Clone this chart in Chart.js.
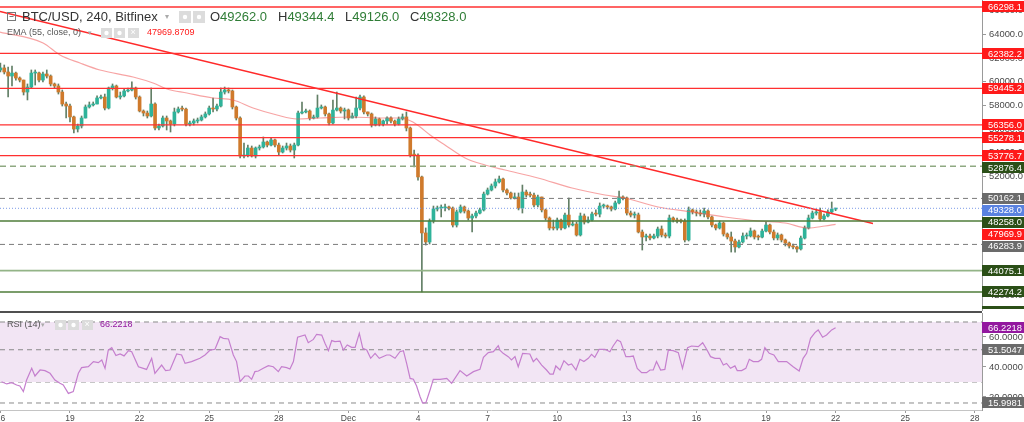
<!DOCTYPE html>
<html>
<head>
<meta charset="utf-8">
<script src="https://cdn.jsdelivr.net/npm/chart.js@4.4.0/dist/chart.umd.min.js"></script>
<style>
  html, body { margin: 0; padding: 0; background: #fff; overflow: hidden; }
  #wrap { position: relative; width: 1024px; height: 422px; }
  #priceChart { position: absolute; left: 0; top: 0; }
  #rsiChart { position: absolute; left: 0; top: 311px; }
</style>
</head>
<body>
<div id="wrap">
  <canvas id="priceChart" width="1024" height="311"></canvas>
  <canvas id="rsiChart" width="1024" height="111"></canvas>
</div>
<script>
// BTC/USD 4h candles, 16 Nov -> 22 Dec (one candle = 1/6 day)
const opens = [
  60990, 61160, 60820, 60480, 60730, 60310, 60140, 59130, 59550, 60730,
  60740, 60140, 60650, 60480, 59810, 59640, 59130, 58120, 57950, 57030,
  56010, 56270, 56940, 57870, 58040, 58120, 58630, 58710, 57780, 59470,
  59640, 58710, 58800, 59220, 59300, 59470, 58710, 57530, 57360, 57110,
  58120, 56100, 56270, 56940, 56690, 56440, 57450, 57700, 57690, 56430,
  56520, 56690, 56770, 57030, 57280, 57780, 57700, 57950, 59130, 59300,
  59220, 57870, 56940, 53740, 53820, 54410, 53740, 54410, 54500, 54920,
  54660, 55090, 54660, 54070, 54410, 54580, 54240, 54660, 57360, 57450,
  57530, 56940, 57020, 57780, 57870, 57280, 56520, 57610, 57780, 57530,
  57620, 56940, 57110, 57780, 58710, 57450, 57280, 56350, 56860, 56430,
  56690, 56940, 56680, 56440, 56860, 57030, 56100, 53820, 53810, 51970,
  47250, 46490, 48260, 49270, 49350, 49360, 49440, 49350, 47920, 49020,
  49440, 49100, 48510, 48680, 48930, 49190, 50530, 50870, 51210, 51550,
  51800, 50870, 50620, 50200, 50280, 49350, 50700, 50450, 50440, 49610,
  50280, 49190, 48510, 47670, 47660, 48340, 47670, 48760, 47920, 48000,
  47080, 48680, 48170, 48340, 48850, 48840, 49520, 49530, 49440, 49270,
  49780, 50280, 50200, 48930, 48760, 48770, 47330, 46910, 46990, 46830,
  46990, 47580, 47080, 46990, 48510, 48340, 48260, 48250, 46660, 49190,
  49020, 48930, 48850, 49100, 48600, 47920, 47670, 48090, 47160, 46910,
  46570, 46070, 46490, 46990, 47000, 47420, 46910, 46900, 47410, 47920,
  47330, 46830, 47080, 46660, 46400, 46150, 46070, 45900, 46820, 47670,
  48510, 48930, 49020, 48430, 48680, 49020, 49262
];
const highs = [
  61580, 61410, 61240, 61320, 60820, 60400, 60140, 59810, 60990, 60990,
  60820, 60820, 60990, 60570, 59890, 59810, 59300, 58290, 58120, 57110,
  56430, 57110, 58040, 58290, 58290, 58800, 58880, 58960, 59550, 59810,
  59720, 59130, 59390, 59470, 59980, 59550, 58800, 57620, 57530, 59470,
  58210, 56430, 57110, 57110, 56770, 57780, 57870, 57950, 57780, 56690,
  56860, 56940, 57190, 57450, 57950, 58630, 58120, 59470, 59550, 59470,
  59300, 57950, 57030, 54830, 54660, 54580, 54500, 54660, 55340, 55000,
  55250, 55170, 54830, 54580, 54830, 54750, 54830, 57530, 58290, 57700,
  57620, 57190, 58880, 58040, 57950, 57360, 58460, 59130, 57870, 57780,
  57700, 57360, 58710, 58880, 58800, 57450, 57360, 57030, 56940, 56770,
  57030, 57030, 56770, 57030, 57280, 57450, 56180, 54240, 53910, 52050,
  47670, 48430, 49520, 49520, 49610, 49690, 49520, 49440, 49190, 49610,
  49520, 49190, 48850, 49100, 49350, 50700, 51040, 51380, 51800, 52050,
  51880, 50960, 50700, 50620, 50620, 51290, 50870, 50700, 50620, 50450,
  50280, 49270, 48600, 48340, 48510, 48430, 48930, 50200, 48260, 48170,
  48930, 48850, 48600, 49020, 49190, 49780, 49690, 49610, 49520, 49940,
  50790, 50370, 50280, 49100, 49020, 48930, 47500, 47160, 47160, 47160,
  47750, 47840, 47250, 48760, 48600, 48510, 48430, 48430, 49440, 49270,
  49190, 49190, 49350, 49190, 48680, 48000, 48260, 48170, 47250, 47330,
  46740, 46660, 47250, 47250, 47670, 47500, 47080, 47580, 48170, 48000,
  47500, 47250, 47160, 46740, 46490, 46320, 46150, 46990, 47840, 48760,
  49100, 49270, 49350, 48850, 49190, 49860, 49344.4
];
const lows = [
  60820, 60650, 58710, 59640, 60140, 59980, 58880, 58460, 59470, 59720,
  59980, 59980, 60310, 59640, 59470, 58960, 57950, 56940, 56600, 55680,
  55760, 56100, 56940, 57780, 57950, 58120, 58540, 57620, 57700, 59300,
  58630, 58540, 58710, 59130, 59220, 58540, 57450, 57110, 56940, 57030,
  55930, 55930, 56180, 55930, 55760, 56270, 57360, 57530, 56270, 56270,
  56350, 56520, 56690, 56940, 57190, 57450, 57530, 57870, 58960, 59050,
  57700, 56770, 53570, 53570, 53650, 53650, 53570, 54240, 54410, 54500,
  54580, 54500, 53820, 53990, 54240, 54070, 53570, 54580, 57280, 57360,
  56770, 56860, 56940, 57700, 57110, 56350, 56440, 57530, 57360, 56860,
  56770, 56940, 56940, 57620, 57280, 57110, 56180, 56270, 56270, 56270,
  56440, 56520, 56270, 56350, 56770, 55850, 53650, 52810, 51710, 42274.2,
  46230, 46320, 48090, 49100, 48600, 49100, 49190, 47750, 47750, 48930,
  48930, 48340, 47330, 48510, 48850, 49100, 50450, 50790, 51040, 51460,
  50700, 50450, 50110, 50110, 49190, 48930, 50280, 50280, 49440, 49440,
  49020, 48340, 47500, 47500, 47500, 47500, 47580, 47750, 47840, 46990,
  46990, 48000, 48090, 48260, 48680, 48600, 49350, 49270, 49100, 49190,
  49690, 50030, 48760, 48600, 48510, 47250, 45810, 46570, 46660, 46740,
  46830, 46910, 46830, 46830, 48170, 48090, 48090, 46490, 46570, 48850,
  48680, 48680, 48600, 48430, 47750, 47500, 47580, 46990, 46740, 45640,
  45640, 45980, 46400, 46740, 46910, 46740, 46660, 46830, 47330, 47160,
  46660, 46660, 46490, 46150, 45980, 45900, 45640, 45810, 46740, 47580,
  48430, 48760, 48260, 48340, 48600, 48930, 49126
];
const closes = [
  61160, 60820, 60480, 60730, 60310, 60140, 59130, 59550, 60730, 60740,
  60140, 60650, 60480, 59810, 59640, 59130, 58120, 57950, 57030, 56010,
  56270, 56940, 57870, 58040, 58120, 58630, 58710, 57780, 59470, 59640,
  58710, 58800, 59220, 59300, 59470, 58710, 57530, 57360, 57110, 58120,
  56100, 56270, 56940, 56690, 56440, 57450, 57700, 57690, 56430, 56520,
  56690, 56770, 57030, 57280, 57780, 57700, 57950, 59130, 59300, 59220,
  57870, 56940, 53740, 53820, 54410, 53740, 54410, 54500, 54920, 54660,
  55090, 54660, 54070, 54410, 54580, 54240, 54660, 57360, 57450, 57530,
  56940, 57020, 57780, 57870, 57280, 56520, 57610, 57780, 57530, 57620,
  56940, 57110, 57780, 58710, 57450, 57280, 56350, 56860, 56430, 56690,
  56940, 56680, 56440, 56860, 57030, 56100, 53820, 53810, 51970, 47250,
  46490, 48260, 49270, 49350, 49360, 49440, 49350, 47920, 49020, 49440,
  49100, 48510, 48680, 48930, 49190, 50530, 50870, 51210, 51550, 51800,
  50870, 50620, 50200, 50280, 49350, 50700, 50450, 50440, 49610, 50280,
  49190, 48510, 47670, 47660, 48340, 47670, 48760, 47920, 48000, 47080,
  48680, 48170, 48340, 48850, 48840, 49520, 49530, 49440, 49270, 49780,
  50280, 50200, 48930, 48760, 48770, 47330, 46910, 46990, 46830, 46990,
  47580, 47080, 46990, 48510, 48340, 48260, 48250, 46660, 49190, 49020,
  48930, 48850, 49100, 48600, 47920, 47670, 48090, 47160, 46910, 46570,
  46070, 46490, 46990, 47000, 47420, 46910, 46900, 47410, 47920, 47330,
  46830, 47080, 46660, 46400, 46150, 46070, 45900, 46820, 47670, 48510,
  48930, 49020, 48430, 48680, 49020, 49262, 49328
];

// EMA(55)
const emaDays = [-0.02, 1.84, 2.57, 3.43, 4.29, 5.72, 6.58, 7.18, 8.04, 9.16,
  10.03, 10.89, 11.92, 12.78, 13.78, 15.07, 16.49, 17.22, 17.78, 18.09,
  18.52, 19.16, 20.03, 20.89, 21.75, 23.17, 24.64, 26.06, 26.92, 28.35,
  29.81, 31.23, 32.66, 33.82, 34.81, 35.54, 36.0];
const emaValues = [64190, 63263, 62252, 61577, 60987, 60397, 59891, 59385, 59048, 58627,
  58458, 57784, 57194, 56856, 56941, 57025, 56941, 56941, 56603, 56182,
  55508, 54665, 53569, 52979, 52557, 51883, 51040, 50450, 50197, 49438,
  49016, 48595, 48258, 48089, 47668, 47836, 47970];

// RSI(14)
const rsiDays = [0.05, 0.27, 0.49, 0.70, 0.84, 0.99, 1.13, 1.35, 1.49, 1.71,
  1.92, 2.14, 2.35, 2.57, 2.71, 2.93, 3.14, 3.36, 3.50, 3.79,
  4.01, 4.22, 4.37, 4.51, 4.65, 4.80, 4.98, 5.16, 5.33, 5.52,
  5.66, 5.95, 6.30, 6.52, 6.66, 6.95, 7.12, 7.31, 7.60, 7.81,
  7.96, 8.24, 8.60, 8.82, 9.04, 9.25, 9.47, 9.61, 9.83, 10.04,
  10.18, 10.33, 10.54, 10.69, 10.83, 10.97, 11.12, 11.33, 11.55, 11.76,
  11.98, 12.12, 12.34, 12.48, 12.63, 12.81, 13.13, 13.27, 13.49, 13.63,
  13.85, 13.99, 14.14, 14.28, 14.42, 14.64, 14.78, 14.95, 15.14, 15.29,
  15.47, 15.62, 15.79, 15.96, 16.15, 16.33, 16.65, 16.79, 17.01, 17.22,
  17.37, 17.51, 17.66, 17.80, 17.94, 18.09, 18.20, 18.34, 18.52, 18.66,
  18.95, 19.24, 19.45, 19.81, 20.10, 20.39, 20.67, 20.82, 21.03, 21.25,
  21.46, 21.53, 21.67, 21.89, 22.03, 22.18, 22.32, 22.51, 22.82, 22.97,
  23.11, 23.33, 23.54, 23.69, 23.83, 23.94, 24.12, 24.29, 24.48, 24.62,
  24.81, 24.98, 25.15, 25.34, 25.48, 25.62, 25.81, 26.06, 26.27, 26.41,
  26.59, 26.73, 26.96, 27.13, 27.28, 27.45, 27.64, 27.85, 28.00, 28.14,
  28.28, 28.46, 28.64, 28.79, 29.00, 29.22, 29.40, 29.62, 29.79, 30.08,
  30.27, 30.44, 30.61, 30.80, 31.01, 31.16, 31.30, 31.47, 31.66, 31.76,
  31.95, 32.13, 32.28, 32.45, 32.67, 32.81, 32.95, 33.14, 33.34, 33.53,
  33.89, 34.17, 34.43, 34.60, 34.75, 34.92, 35.11, 35.25, 35.44, 35.61,
  35.83, 36.00];
const rsiValues = [30.2, 28.7, 29.6, 28.0, 27.3, 23.6, 31.3, 39.1, 34.0, 38.0,
  37.6, 35.8, 31.3, 29.1, 28.0, 22.4, 23.6, 35.8, 39.6, 40.2,
  43.6, 42.9, 44.7, 39.1, 51.3, 52.9, 47.6, 48.7, 47.4, 50.9,
  50.2, 40.2, 38.4, 45.8, 35.8, 41.3, 37.6, 38.0, 48.7, 48.0,
  42.4, 43.6, 45.8, 48.0, 51.3, 51.8, 60.2, 59.1, 58.7, 48.0,
  43.6, 30.2, 34.0, 34.0, 31.8, 36.9, 37.3, 39.1, 40.9, 40.2,
  36.9, 40.2, 39.6, 38.7, 43.6, 59.8, 61.3, 56.2, 58.4, 61.8,
  61.3, 55.8, 50.9, 57.6, 56.9, 57.3, 51.3, 54.7, 53.1, 53.1,
  62.4, 52.4, 51.3, 45.8, 49.1, 45.8, 48.0, 48.0, 45.8, 50.2,
  50.9, 42.4, 32.4, 31.8, 27.3, 20.2, 16.0, 16.2, 24.7, 31.8,
  31.8, 32.4, 29.1, 37.6, 34.0, 36.9, 38.4, 46.4, 49.6, 50.2,
  54.2, 51.3, 49.1, 46.9, 44.7, 46.9, 40.2, 49.1, 48.7, 43.6,
  45.8, 41.3, 38.0, 35.3, 35.3, 40.7, 38.0, 44.2, 41.3, 42.0,
  38.0, 45.1, 43.6, 45.8, 48.4, 46.4, 51.8, 51.8, 50.2, 54.0,
  58.0, 56.9, 46.9, 46.9, 47.3, 39.1, 36.2, 36.2, 38.0, 38.0,
  43.6, 38.0, 38.4, 51.3, 50.9, 49.6, 39.1, 52.9, 54.0, 53.6,
  56.2, 51.8, 46.9, 45.8, 45.8, 41.3, 42.4, 39.1, 40.7, 37.6,
  37.6, 39.1, 45.1, 43.6, 43.6, 45.1, 52.9, 49.1, 48.0, 43.6,
  43.6, 40.2, 37.3, 45.8, 49.1, 59.1, 62.9, 64.7, 59.8, 61.3,
  64.7, 66.22];

// drawn levels
const redLevels = [66298.1, 62382.2, 59445.2, 56356.0, 55278.1, 53776.7];
const greenLevels = [48258.0, 42274.2];
const paleGreenLevels = [44075.1];
const dashedGreenLevels = [52876.4];
const dashedGreyLevels = [50162.1, 46283.9];
const lastClose = 49328.0;
const emaLast = 47969.9;
const trendDays = [-0.017, 37.61];
const trendPrices = [65919, 48047];
const rsiBand = [70, 30];
const rsiLevels = [51.5047, 15.9981];
const rsiLast = 66.2218;

// axes
const priceTicks = [42000, 44000, 46000, 48000, 50000, 52000, 54000, 56000, 58000, 60000, 62000, 64000, 66000];
const rsiTicks = [20, 40, 60];
const dayTicks = [0, 3, 6, 9, 12, 15, 18, 21, 24, 27, 30, 33, 36, 39, 42];
const dayLabels = ['16', '19', '22', '25', '28', 'Dec', '4', '7', '10', '13', '16', '19', '22', '25', '28'];

const X_MIN = -0.017, X_MAX = 42.31;
const FONT = '"Liberation Sans", Arial, sans-serif';
Chart.defaults.font.family = FONT;

const candleDays = closes.map((c, i) => i / 6);
const upColor = '#2fb39a', downColor = '#cf7a2c';
const dirColors = closes.map((c, i) => c >= opens[i] ? upColor : downColor);

function levelSet(v, color, width, dash) {
  return {
    type: 'line',
    data: [{ x: X_MIN, y: v }, { x: X_MAX, y: v }],
    borderColor: color, borderWidth: width, borderDash: dash || [],
    pointRadius: 0, order: 0
  };
}

function fixAxis(w) {
  return function (s) {
    if (w) s.width = w;
    s.paddingTop = 0; s.paddingBottom = 0; s.paddingLeft = 0; s.paddingRight = 0;
  };
}

function drawTags(chart, scaleId, tags) {
  const ctx = chart.ctx;
  const sc = chart.scales[scaleId];
  let items = tags.map(t => Object.assign({}, t, { y: sc.getPixelForValue(t.value) }));
  items.sort((a, b) => a.y - b.y);
  let prev = -100;
  items.forEach(t => {
    if (t.y - prev < 12) t.y = prev + 12;
    prev = t.y;
  });
  ctx.save();
  ctx.font = '9.4px ' + FONT;
  ctx.textBaseline = 'middle';
  ctx.textAlign = 'left';
  items.forEach(t => {
    ctx.fillStyle = t.bg;
    ctx.fillRect(sc.left, Math.round(t.y - 5.5), 42, 11);
    ctx.fillStyle = '#fff';
    ctx.fillText(t.text, sc.left + 6, t.y + 0.5);
  });
  ctx.restore();
}

function iconBox(ctx, x, y, w, h) {
  ctx.fillStyle = '#dcdcdc';
  ctx.fillRect(x, y, w, h);
  ctx.fillStyle = '#fff';
  ctx.beginPath();
  ctx.arc(x + w / 2, y + h / 2, 2.2, 0, Math.PI * 2);
  ctx.fill();
}

const priceTags = [];
redLevels.forEach(v => priceTags.push({ value: v, text: v.toFixed(1), bg: '#ff1a1a' }));
greenLevels.concat(paleGreenLevels, dashedGreenLevels).forEach(v => priceTags.push({ value: v, text: v.toFixed(1), bg: '#2b4f17' }));
dashedGreyLevels.forEach(v => priceTags.push({ value: v, text: v.toFixed(1), bg: '#6b6b6b' }));
priceTags.push({ value: lastClose, text: lastClose.toFixed(1), bg: '#5a82e0' });
priceTags.push({ value: emaLast, text: emaLast.toFixed(1), bg: '#ff1a1a' });

const priceDeco = {
  id: 'priceDeco',
  afterDraw(chart) {
    const ctx = chart.ctx;
    drawTags(chart, 'y', priceTags);
    ctx.save();
    // strip of a label below the visible range
    ctx.fillStyle = '#2b4f17';
    ctx.fillRect(982, 306, 42, 3);
    // header line
    ctx.textBaseline = 'middle';
    ctx.strokeStyle = '#777';
    ctx.lineWidth = 1;
    ctx.strokeRect(7.5, 12.5, 8, 8);
    ctx.beginPath(); ctx.moveTo(9.5, 16.5); ctx.lineTo(13.5, 16.5); ctx.stroke();
    ctx.font = '13px ' + FONT;
    ctx.fillStyle = '#333';
    ctx.fillText('BTC/USD, 240, Bitfinex', 22, 17);
    ctx.fillStyle = '#aaa';
    ctx.font = '8px ' + FONT;
    ctx.fillText('\u25BE', 165, 17);
    iconBox(ctx, 179, 11, 12, 12);
    iconBox(ctx, 193, 11, 12, 12);
    ctx.font = '13px ' + FONT;
    const ohlc = [['O', 49262.0, 210], ['H', 49344.4, 278], ['L', 49126.0, 345], ['C', 49328.0, 410]];
    ohlc.forEach(r => {
      ctx.fillStyle = '#333';
      ctx.fillText(r[0], r[2], 17);
      const w = ctx.measureText(r[0]).width;
      ctx.fillStyle = '#2f7d36';
      ctx.fillText(r[1].toFixed(1), r[2] + w, 17);
    });
    // EMA legend
    ctx.font = '9px ' + FONT;
    ctx.fillStyle = '#555';
    ctx.fillText('EMA (55, close, 0)', 7, 33);
    ctx.fillStyle = '#aaa';
    ctx.font = '7px ' + FONT;
    ctx.fillText('\u25BE', 88, 33);
    iconBox(ctx, 101, 28, 11, 10);
    iconBox(ctx, 114, 28, 11, 10);
    ctx.fillStyle = '#dcdcdc';
    ctx.fillRect(128, 28, 11, 10);
    ctx.fillStyle = '#fff';
    ctx.font = '9px ' + FONT;
    ctx.fillText('\u00D7', 130.5, 33);
    ctx.fillStyle = '#ff1a1a';
    ctx.fillText('47969.8709', 147, 33);
    ctx.restore();
  }
};

const rsiTags = [
  { value: rsiLast, text: rsiLast.toFixed(4), bg: '#93179f' },
  { value: rsiLevels[0], text: rsiLevels[0].toFixed(4), bg: '#6b6b6b' },
  { value: rsiLevels[1], text: rsiLevels[1].toFixed(4), bg: '#6b6b6b' }
];

const rsiDeco = {
  id: 'rsiDeco',
  beforeDraw(chart) {
    const ctx = chart.ctx;
    ctx.save();
    ctx.fillStyle = '#505050';
    ctx.fillRect(0, 0, 982, 2);
    ctx.restore();
  },
  afterDraw(chart) {
    const ctx = chart.ctx;
    drawTags(chart, 'y', rsiTags);
    ctx.save();
    ctx.textBaseline = 'middle';
    ctx.font = '9px ' + FONT;
    ctx.fillStyle = '#555';
    ctx.fillText('RSI (14)', 7, 14);
    ctx.fillStyle = '#aaa';
    ctx.font = '7px ' + FONT;
    ctx.fillText('\u25BE', 41, 14);
    iconBox(ctx, 55, 9, 11, 10);
    iconBox(ctx, 68, 9, 11, 10);
    ctx.fillStyle = '#dcdcdc';
    ctx.fillRect(82, 9, 11, 10);
    ctx.fillStyle = '#fff';
    ctx.font = '9px ' + FONT;
    ctx.fillText('\u00D7', 84.5, 14);
    ctx.fillStyle = '#93179f';
    ctx.fillText('66.2218', 100, 14);
    ctx.restore();
  }
};

const priceDatasets = [];
redLevels.forEach(v => priceDatasets.push(levelSet(v, '#ff3030', 1.3)));
greenLevels.forEach(v => priceDatasets.push(levelSet(v, '#4f7d3a', 1.3)));
paleGreenLevels.forEach(v => priceDatasets.push(levelSet(v, '#93b487', 1.8)));
dashedGreenLevels.forEach(v => priceDatasets.push(levelSet(v, '#8fa982', 1.6, [6, 4])));
dashedGreyLevels.forEach(v => priceDatasets.push(levelSet(v, '#7a7a7a', 1, [5, 4])));
priceDatasets.push(levelSet(lastClose, '#7c9be8', 1, [1, 2]));
priceDatasets.push({
  type: 'line',
  data: trendDays.map((d, i) => ({ x: d, y: trendPrices[i] })),
  borderColor: '#ff2a2a', borderWidth: 1.4, pointRadius: 0, order: 0
});
priceDatasets.push({
  type: 'line',
  data: emaDays.map((d, i) => ({ x: d, y: emaValues[i] })),
  borderColor: 'rgba(240,90,90,0.55)', borderWidth: 1.2, pointRadius: 0,
  cubicInterpolationMode: 'monotone', order: 1
});
priceDatasets.push({
  type: 'bar',
  data: candleDays.map((d, i) => ({ x: d, y: [lows[i], highs[i]] })),
  backgroundColor: '#627f66', barThickness: 1, grouped: false, order: 3
});
priceDatasets.push({
  type: 'bar',
  data: candleDays.map((d, i) => ({ x: d, y: [opens[i], closes[i]] })),
  backgroundColor: dirColors, barThickness: 3, minBarLength: 1, grouped: false, order: 2
});

new Chart(document.getElementById('priceChart'), {
  type: 'bar',
  data: { datasets: priceDatasets },
  options: {
    responsive: false, animation: false, devicePixelRatio: 1,
    layout: { padding: 0 },
    plugins: { legend: { display: false }, tooltip: { enabled: false } },
    scales: {
      x: { type: 'linear', display: false, min: X_MIN, max: X_MAX, offset: false },
      y: {
        type: 'linear', position: 'right', min: 40671, max: 66888,
        afterBuildTicks: s => { s.ticks = priceTicks.map(v => ({ value: v })); },
        afterFit: fixAxis(42),
        ticks: { color: '#4a4a4a', font: { size: 9.4 }, padding: 3, callback: v => v.toFixed(1) },
        grid: { drawOnChartArea: false, tickLength: 4, color: '#9a9a9a' },
        border: { display: true, color: '#9a9a9a' }
      }
    }
  },
  plugins: [priceDeco]
});

const rsiDatasets = [
  {
    data: [{ x: X_MIN, y: rsiBand[0] }, { x: X_MAX, y: rsiBand[0] }],
    borderColor: '#8a8a8a', borderWidth: 1, borderDash: [5, 4], pointRadius: 0,
    fill: '+1', backgroundColor: '#f2e5f4', order: 2
  },
  {
    data: [{ x: X_MIN, y: rsiBand[1] }, { x: X_MAX, y: rsiBand[1] }],
    borderColor: '#8a8a8a', borderWidth: 1, borderDash: [5, 4], pointRadius: 0, order: 2
  }
];
rsiLevels.forEach(v => rsiDatasets.push({
  data: [{ x: X_MIN, y: v }, { x: X_MAX, y: v }],
  borderColor: '#8a8a8a', borderWidth: 1, borderDash: [5, 4], pointRadius: 0, order: 1
}));
rsiDatasets.push({
  data: rsiDays.map((d, i) => ({ x: d, y: rsiValues[i] })),
  borderColor: '#c57fce', borderWidth: 1.2, pointRadius: 0, order: 0
});

new Chart(document.getElementById('rsiChart'), {
  type: 'line',
  data: { datasets: rsiDatasets },
  options: {
    responsive: false, animation: false, devicePixelRatio: 1,
    layout: { padding: { top: 2, left: 0, right: 0, bottom: 0 } },
    plugins: { legend: { display: false }, tooltip: { enabled: false } },
    scales: {
      x: {
        type: 'linear', min: X_MIN, max: X_MAX, offset: false,
        afterBuildTicks: s => { s.ticks = dayTicks.map(v => ({ value: v })); },
        afterFit: s => { s.height = 12; s.paddingLeft = 0; s.paddingRight = 0; },
        ticks: {
          autoSkip: false, maxRotation: 0, color: '#4a4a4a', font: { size: 8.5 }, padding: 1,
          callback: (v, i) => dayLabels[i]
        },
        grid: { drawOnChartArea: false, tickLength: 3, color: '#9a9a9a' },
        border: { display: true, color: '#c4c4c4' }
      },
      y: {
        type: 'linear', position: 'right', min: 11.33, max: 76,
        afterBuildTicks: s => { s.ticks = rsiTicks.map(v => ({ value: v })); },
        afterFit: fixAxis(42),
        ticks: { color: '#4a4a4a', font: { size: 9.4 }, padding: 3, callback: v => v.toFixed(4) },
        grid: { drawOnChartArea: false, tickLength: 4, color: '#9a9a9a' },
        border: { display: true, color: '#9a9a9a' }
      }
    }
  },
  plugins: [rsiDeco]
});
</script>
</body>
</html>
